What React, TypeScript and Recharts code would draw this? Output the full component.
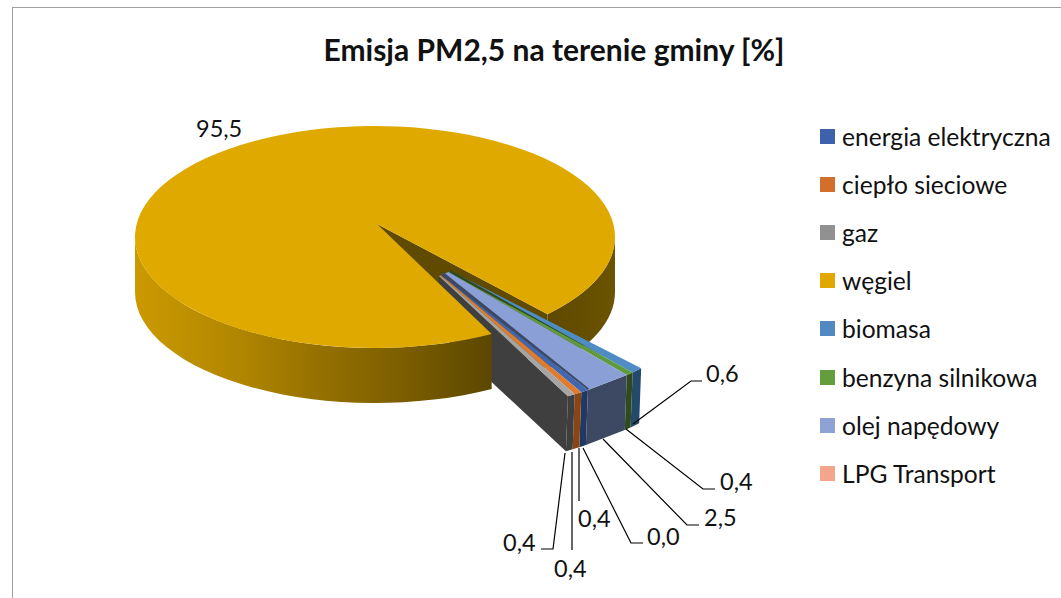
import React from 'react';
import { PieChart, Pie, Legend } from 'recharts';

// values in slice order, clockwise starting at the first wedge
const names = ['energia elektryczna', 'ciepło sieciowe', 'gaz', 'węgiel', 'biomasa', 'benzyna silnikowa', 'olej napędowy', 'LPG Transport'];
const values = [0.4, 0.4, 0.4, 95.5, 0.6, 0.4, 2.5, 0.0];
const topColors = ['#3f68b4', '#e07a2c', '#a5a5a5', '#e0a900', '#4f8cc6', '#5f9a3c', '#8a9fd6', '#f4a78c'];
const legendColors = ['#3d62ab', '#d2702b', '#919191', '#e0a800', '#5289c0', '#649d3d', '#8fa2d4', '#f3a68b'];
const sideColors = ['#1f3864', '#8a4514', '#3f3f3f', '#5f4a00', '#234a6b', '#2f4a1c', '#3d4862', '#3d4862'];

const data = names.map((name, i) => ({ name, value: values[i], fill: topColors[i], side: sideColors[i] }));

const FONT = 'Lato, "Open Sans", sans-serif';
const COAL = 'węgiel';
const SQUASH = 111 / 240;
const DEPTH = 55;
const COAL_APEX = [377, 224];
// the exploded wedge is drawn with its own skewed projection
const WEDGE = { ax: 445, ay: 274, A: [296, -9], B: [-24, 145], hubTop: [451, 271], hubBottom: [439, 276], first: 44, last: 60.9 };

const LABELS: Record<string, { x: number; y: number; line?: number[][] }> = {
  'energia elektryczna': { x: 578, y: 518, line: [[579, 448], [579, 501]] },
  'ciepło sieciowe': { x: 554, y: 568, line: [[572, 452], [572, 550]] },
  gaz: { x: 503, y: 542, line: [[565, 453], [553, 549], [541, 549]] },
  węgiel: { x: 196, y: 128 },
  biomasa: { x: 706, y: 373, line: [[633, 424], [691, 381], [702, 381]] },
  'benzyna silnikowa': { x: 720, y: 481, line: [[626, 429], [703, 489], [715, 489]] },
  'olej napędowy': { x: 704, y: 517, line: [[603, 439], [687, 525], [699, 525]] },
  'LPG Transport': { x: 647, y: 536, line: [[583, 448], [631, 543], [643, 543]] },
};

const rad = (d: number) => (d * Math.PI) / 180;

function ellipsePoint(p: any, theta: number) {
  const rx = p.outerRadius;
  return [p.cx + rx * Math.cos(rad(theta)), p.cy + rx * SQUASH * Math.sin(rad(theta))];
}

function arcPath(p: any, from: number, to: number, depth: number, sweep: number) {
  const rx = p.outerRadius;
  const a = ellipsePoint(p, from);
  const b = ellipsePoint(p, to);
  const large = Math.abs(to - from) > 180 ? 1 : 0;
  return { a, b, d: `A${rx} ${rx * SQUASH} 0 ${large} ${sweep} ${b[0]} ${b[1] + depth}` };
}

function sidePath(p: any, from: number, to: number) {
  const top = arcPath(p, from, to, 0, 1);
  const bottom = arcPath(p, to, from, DEPTH, 0);
  return `M${top.a[0]} ${top.a[1]}${top.d}L${top.b[0]} ${top.b[1] + DEPTH}${bottom.d}Z`;
}

function wedgeOuter(theta: number) {
  const c = Math.cos(rad(theta));
  const s = Math.sin(rad(theta));
  return [WEDGE.ax + c * WEDGE.A[0] + s * WEDGE.B[0], WEDGE.ay + c * WEDGE.A[1] + s * WEDGE.B[1]];
}

function wedgeHub(theta: number) {
  const t = (theta - WEDGE.first) / (WEDGE.last - WEDGE.first);
  return [
    WEDGE.hubTop[0] + t * (WEDGE.hubBottom[0] - WEDGE.hubTop[0]),
    WEDGE.hubTop[1] + t * (WEDGE.hubBottom[1] - WEDGE.hubTop[1]),
  ];
}

const poly = (pts: number[][]) => pts.map((q) => q.join(',')).join(' ');
const shift = (q: number[], k: number) => [q[0] + 0.5 * k, q[1] - 0.86 * k];
const along = (a: number[], b: number[], t: number) => [a[0] + (b[0] - a[0]) * t, a[1] + (b[1] - a[1]) * t];

// recharts gives angles counter-clockwise, the projection works in screen degrees
function screenAngles(p: any) {
  return [-p.startAngle, -p.endAngle];
}

function backLayer(p: any) {
  if (p.name !== COAL) return <g />;
  const end = -p.endAngle;
  const upper = ellipsePoint(p, end);
  const [ax, ay] = COAL_APEX;
  return (
    <g>
      <path d={sidePath(p, 0, end - 360)} fill="url(#coalRight)" />
      <polygon points={poly([[ax, ay], upper, [upper[0], upper[1] + DEPTH], [ax, ay + DEPTH]])} fill={p.side} />
    </g>
  );
}

function wedgeLayer(p: any) {
  if (p.name === COAL) return <g />;
  const [t1, t2] = screenAngles(p);
  // wrap the angles of the slices that come after the big one
  const from = t1 > 180 ? t1 - 360 : t1;
  const to = t2 > 180 ? t2 - 360 : t2;
  const o1 = wedgeOuter(from);
  const o2 = wedgeOuter(to);
  const h1 = wedgeHub(from);
  const h2 = wedgeHub(to);
  const low = (q: number[]) => [q[0] - 2, q[1] + DEPTH];
  // the empty LPG slice only shows as the dark seam next to the oil slice
  if (p.name === 'LPG Transport') {
    return <polygon points={poly([shift(h1, 3), shift(o1, 2), o1, shift(h1, -1)])} fill={p.side} />;
  }
  return (
    <g>
      {p.name === 'gaz' && (
        <polygon points={poly([h2, o2, low(o2), low(h2)])} fill={p.side} />
      )}
      <polygon points={poly([o1, o2, low(o2), low(o1)])} fill={p.side} />
      <polygon points={poly([h1, o1, o2, h2])} fill={p.fill} />
      {p.name === 'benzyna silnikowa' && (
        <polygon points={poly([shift(h1, 2), along(h1, o1, 0.85), shift(h1, -1)])} fill={p.side} />
      )}
    </g>
  );
}

function frontLayer(p: any) {
  if (p.name !== COAL) return <g />;
  const [from, to] = screenAngles(p);
  const rx = p.outerRadius;
  const a = ellipsePoint(p, from);
  const b = ellipsePoint(p, to);
  const [ax, ay] = COAL_APEX;
  return (
    <g>
      <path d={sidePath(p, from, 180)} fill="url(#coalLeft)" />
      <path
        d={`M${ax} ${ay}L${a[0]} ${a[1]}A${rx} ${rx * SQUASH} 0 1 1 ${b[0]} ${b[1]}Z`}
        fill={p.fill}
      />
    </g>
  );
}

const formatValue = (v: number) => v.toFixed(1).replace('.', ',');

function renderLabel(p: any) {
  const spot = LABELS[p.name];
  return (
    <g>
      {spot.line && <polyline points={poly(spot.line)} fill="none" stroke="#000" strokeWidth={1.2} />}
      <text x={spot.x} y={spot.y} dominantBaseline="central" fontFamily={FONT} fontSize={23.5} fill="#111">
        {formatValue(p.value)}
      </text>
    </g>
  );
}

function LegendBox() {
  return (
    <div>
      {names.map((name, i) => (
        <div key={name} style={{ display: 'flex', alignItems: 'center', height: 48.2 }}>
          <span style={{ width: 15, height: 15, background: legendColors[i], marginRight: 7 }} />
          <span style={{ fontFamily: FONT, fontSize: 24.6, color: '#111', whiteSpace: 'nowrap' }}>{name}</span>
        </div>
      ))}
    </div>
  );
}

export default function App() {
  const pieProps = {
    data,
    dataKey: 'value',
    nameKey: 'name',
    cx: 375,
    cy: 237,
    outerRadius: 240,
    startAngle: -56.6,
    endAngle: -416.6,
    isAnimationActive: false,
  };
  return (
    <div style={{ position: 'absolute', left: 0, top: 0, width: 1061, height: 598, overflow: 'hidden', background: '#fff' }}>
      <div style={{ position: 'absolute', left: 12, top: 7, width: 1100, height: 700, border: '1.5px solid #a0a0a0' }} />
      <div style={{ position: 'absolute', left: 254, width: 600, top: 30, textAlign: 'center', fontFamily: FONT, fontWeight: 700, fontSize: 30, lineHeight: '38px', color: '#111' }}>
        Emisja PM2,5 na terenie gminy [%]
      </div>
      <div style={{ position: 'absolute', left: 0, top: 0 }}>
        <PieChart width={1061} height={598} margin={{ top: 0, right: 0, bottom: 0, left: 0 }}>
          <defs>
            <linearGradient id="coalLeft" gradientUnits="userSpaceOnUse" x1="135" y1="0" x2="492" y2="0">
              <stop offset="0" stopColor="#cb9900" />
              <stop offset="0.3" stopColor="#b08500" />
              <stop offset="0.5" stopColor="#977200" />
              <stop offset="0.75" stopColor="#7c5e00" />
              <stop offset="1" stopColor="#5c4700" />
            </linearGradient>
            <linearGradient id="coalRight" gradientUnits="userSpaceOnUse" x1="548" y1="0" x2="615" y2="0">
              <stop offset="0" stopColor="#5f4900" />
              <stop offset="1" stopColor="#6b5300" />
            </linearGradient>
          </defs>
          <Pie {...pieProps} legendType="none" shape={backLayer} />
          <Pie {...pieProps} legendType="none" shape={wedgeLayer} />
          <Pie {...pieProps} legendType="square" shape={frontLayer} label={renderLabel} labelLine={false} />
          <Legend
            layout="vertical"
            content={<LegendBox />}
            wrapperStyle={{ position: 'absolute', left: 820, top: 112, width: 240, height: 390, bottom: 'auto', right: 'auto' }}
          />
        </PieChart>
      </div>
    </div>
  );
}
